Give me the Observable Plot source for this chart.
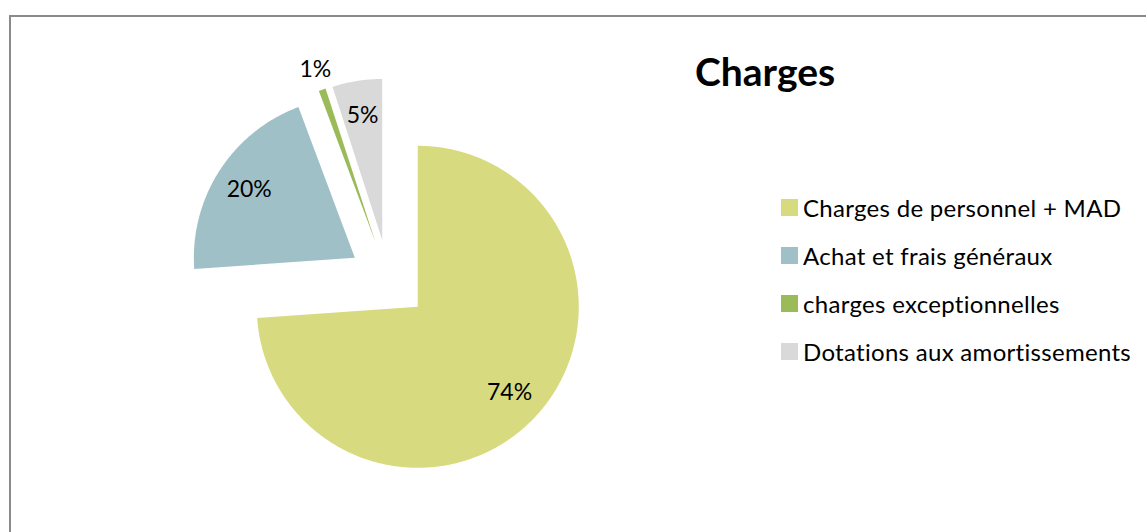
<!DOCTYPE html>
<html><head><meta charset="utf-8">
<script src="https://cdn.jsdelivr.net/npm/d3@7"></script>
<script src="https://cdn.jsdelivr.net/npm/@observablehq/plot@0.6"></script>
<style>
html,body{margin:0;padding:0;background:#fff;overflow:hidden;}
#wrap{position:relative;width:1146px;height:532px;overflow:hidden;font-family:Lato,"Open Sans",sans-serif;}
#border{position:absolute;left:9px;top:15px;width:1300px;height:700px;border-left:2px solid #8a8a8a;border-top:2px solid #8a8a8a;}
#chart{position:absolute;left:0;top:0;}
#title{position:absolute;left:695px;top:52px;font-size:39px;line-height:39px;font-weight:bold;color:#000;white-space:nowrap;}
#legend{position:absolute;left:781px;top:183px;}
#legend > div{font-family:Lato,sans-serif !important;font-size:24px !important;color:#000;margin:0 !important;letter-spacing:0.3px;}
#legend > div > div{height:48px;display:flex;align-items:center;padding:0 !important;}
#legend > div > div > svg{margin-right:5px !important;}
</style></head><body>
<div id="wrap"><div id="border"></div><div id="chart"></div><div id="title"></div><div id="legend"></div></div>
<script>
const titleText = "Charges";
const categories = ["Charges de personnel + MAD", "Achat et frais généraux", "charges exceptionnelles", "Dotations aux amortissements"];
const shares = [73.9, 20.4, 0.7, 5.0];
const colors = ["#D7DA7F", "#A0C0C8", "#9BBB59", "#D9D9D9"];

const W = 1146, H = 532;
const CX = 388, CY = 279, R = 161;   // pie centre and radius (pixels)
const EXPLODE = 40 / R;               // every slice pulled out

const total = d3.sum(shares);
const arcs = d3.pie().sort(null).startAngle(0).endAngle(2 * Math.PI)(shares);

const points = [];
const labels = [];
arcs.forEach((a, i) => {
  const name = categories[i];
  const mid = (a.startAngle + a.endAngle) / 2;
  const ox = EXPLODE * Math.sin(mid), oy = EXPLODE * Math.cos(mid);
  points.push({name, x: ox, y: oy});
  const n = Math.max(2, Math.ceil((a.endAngle - a.startAngle) / (Math.PI / 360)));
  for (let k = 0; k <= n; ++k) {
    const t = a.startAngle + (a.endAngle - a.startAngle) * k / n;
    points.push({name, x: ox + Math.sin(t), y: oy + Math.cos(t)});
  }
  points.push({name, x: ox, y: oy});
  const frac = shares[i] / total;
  const lr = frac < 0.02 ? 1.13 : 0.78;
  labels.push({name, x: ox + lr * Math.sin(mid), y: oy + lr * Math.cos(mid), label: Math.round(frac * 100) + "%"});
});

const chart = Plot.plot({
  width: W, height: H, margin: 0,
  x: {domain: [-CX / R, (W - CX) / R], axis: null},
  y: {domain: [-(H - CY) / R, CY / R], axis: null},
  color: {domain: categories, range: colors},
  style: {background: "transparent", overflow: "visible"},
  marks: [
    Plot.line(points, {x: "x", y: "y", z: "name", fill: "name", stroke: "none", curve: "linear"}),
    Plot.text(labels, {x: "x", y: "y", text: "label", fontSize: 23, fill: "#000", fontFamily: "Lato, sans-serif", textAnchor: "middle", lineAnchor: "middle"})
  ]
});
document.getElementById("chart").appendChild(chart);
document.getElementById("title").textContent = titleText;
const leg = chart.legend("color", {columns: 1, swatchSize: 17});
document.getElementById("legend").appendChild(leg);
</script>
</body></html>
